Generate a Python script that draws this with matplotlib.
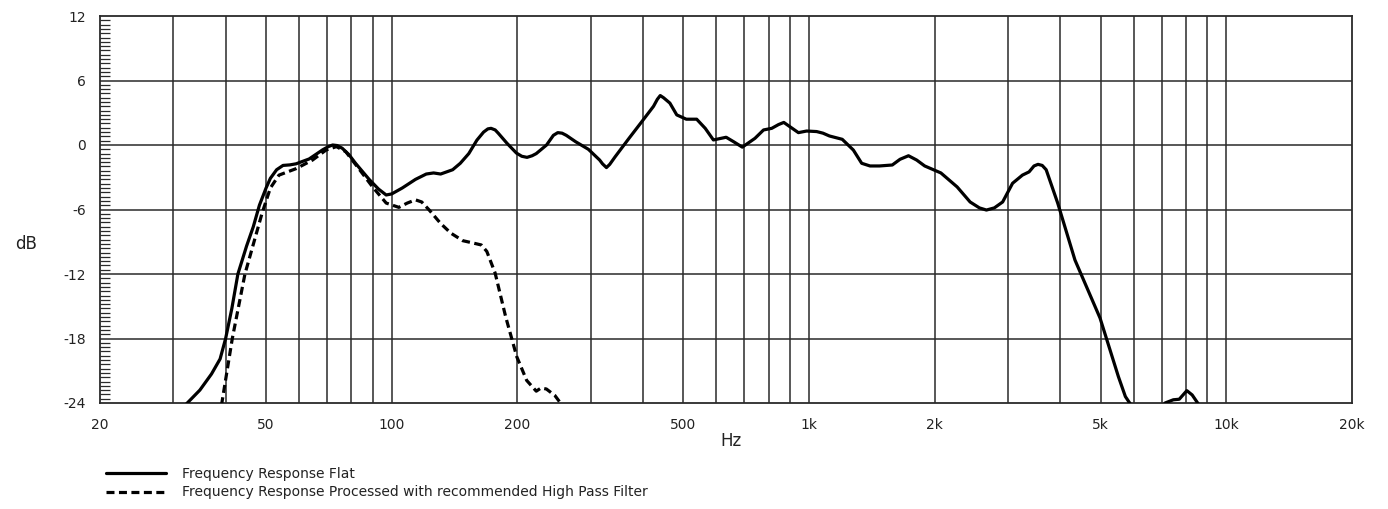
import matplotlib
matplotlib.use('Agg')
import matplotlib.pyplot as plt
from matplotlib.ticker import FixedLocator, NullFormatter, FixedFormatter, MultipleLocator

plt.rcParams['axes.unicode_minus'] = False

# ---------------- data ----------------
flat_hz = [32, 34.7, 37, 38.8, 40.0, 41.4, 42.8, 44.9, 46.6, 48.2, 50.0, 51.2, 53, 54.9, 57,
           59, 63.4, 68.3, 70.5, 72.2, 74, 76.1, 79, 81.9, 88.3, 93, 97, 100, 106, 114, 121,
           126, 131, 140, 146, 153, 160, 166, 170, 173, 177, 180, 189, 199, 205, 211, 217,
           222, 235, 244, 250, 256, 262, 276, 296, 315, 320, 327, 333, 343, 370, 398, 424,
           433, 440, 448, 464, 482, 508, 538, 564, 590, 633, 660, 692, 742, 778, 814, 845,
           870, 900, 943, 987, 1043, 1080, 1119, 1201, 1277, 1337, 1400, 1475, 1583, 1652,
           1731, 1811, 1893, 2070, 2264, 2432, 2560, 2661, 2780, 2910, 3074, 3246, 3367,
           3460, 3537, 3620, 3700, 3943, 4337, 4981, 5512, 5728, 5889, 6400, 7130, 7463,
           7710, 8040, 8280, 8640]
flat_db = [-24.2, -22.8, -21.3, -19.9, -18.0, -15.2, -12.0, -9.4, -7.6, -5.6, -4.0, -3.1,
           -2.3, -1.9, -1.85, -1.75, -1.3, -0.45, -0.15, 0.0, -0.05, -0.3, -0.9, -1.7, -3.2,
           -4.1, -4.65, -4.55, -4.0, -3.2, -2.7, -2.6, -2.7, -2.3, -1.7, -0.8, 0.45, 1.2,
           1.5, 1.55, 1.4, 1.1, 0.15, -0.75, -1.05, -1.15, -1.0, -0.8, 0.0, 0.9, 1.15, 1.1,
           0.9, 0.3, -0.4, -1.4, -1.75, -2.1, -1.8, -1.1, 0.6, 2.2, 3.6, 4.25, 4.6, 4.4,
           3.9, 2.8, 2.4, 2.4, 1.55, 0.47, 0.72, 0.3, -0.2, 0.62, 1.4, 1.55, 1.9, 2.1, 1.7,
           1.15, 1.3, 1.25, 1.1, 0.84, 0.53, -0.47, -1.7, -1.95, -1.95, -1.86, -1.33, -1.0,
           -1.4, -1.95, -2.6, -3.9, -5.3, -5.85, -6.05, -5.85, -5.3, -3.56, -2.8, -2.5,
           -1.95, -1.8, -1.9, -2.3, -5.4, -10.7, -16.1, -21.55, -23.4, -24.1, -30.0, -24.0,
           -23.7, -23.65, -22.85, -23.25, -24.3]

hpf_hz = [39.1, 41.5, 44.5, 48.9, 51.2, 53.7, 59, 64.6, 69.6, 73.7, 77.6, 83.4, 90, 97, 104,
          109, 114, 118, 123, 131, 138.6, 148, 156, 164, 169, 176.9, 187.6, 199.4, 210.6,
          222, 228, 234.8, 246, 256]
hpf_db = [-24.2, -18.0, -12.0, -6.35, -4.0, -2.8, -2.2, -1.4, -0.47, -0.15, -0.62, -2.2,
          -3.9, -5.4, -5.8, -5.4, -5.1, -5.3, -6.05, -7.3, -8.2, -8.9, -9.1, -9.3, -9.9,
          -11.9, -16.0, -19.7, -21.9, -22.9, -22.6, -22.7, -23.3, -24.2]

x_ticks = [20, 50, 100, 200, 500, 1000, 2000, 5000, 10000, 20000]
x_tick_labels = ['20', '50', '100', '200', '500', '1k', '2k', '5k', '10k', '20k']
x_grid = [30, 40, 50, 60, 70, 80, 90, 100, 200, 300, 400, 500, 600, 700, 800, 900,
          1000, 2000, 3000, 4000, 5000, 6000, 7000, 8000, 9000, 10000]
y_ticks = [-24, -18, -12, -6, 0, 6, 12]
legend_labels = ['Frequency Response Flat',
                 'Frequency Response Processed with recommended High Pass Filter']

# ---------------- figure ----------------
W, H = 1388, 509
fig = plt.figure(figsize=(W / 100, H / 100), dpi=100)
ax = fig.add_axes([100 / W, 1 - 403 / H, 1252 / W, 387 / H])
ax.set_xscale('log')
ax.set_xlim(20, 20000)
ax.set_ylim(-24, 12)

gc = '#2a2a2a'
for f in x_grid:
    ax.axvline(f, color=gc, lw=1.1, zorder=1)
for y in y_ticks[1:-1]:
    ax.axhline(y, color=gc, lw=1.1, zorder=1)
for s in ax.spines.values():
    s.set_color(gc)
    s.set_linewidth(1.3)

ax.xaxis.set_major_locator(FixedLocator(x_ticks))
ax.xaxis.set_major_formatter(FixedFormatter(x_tick_labels))
ax.xaxis.set_minor_locator(FixedLocator([]))
ax.xaxis.set_minor_formatter(NullFormatter())
ax.tick_params(axis='x', which='both', length=0, pad=11, labelsize=10, colors='#222222')

ax.yaxis.set_major_locator(FixedLocator(y_ticks))
ax.yaxis.set_minor_locator(MultipleLocator(0.4))
ax.tick_params(axis='y', which='major', length=0, pad=10, labelsize=10, colors='#222222')
ax.tick_params(axis='y', which='minor', direction='in', length=7, width=0.9, color=gc)

l1, = ax.plot(flat_hz, flat_db, color='black', lw=2.3, solid_joinstyle='round',
              solid_capstyle='round', zorder=3)
l2, = ax.plot(hpf_hz, hpf_db, color='black', lw=2.3, linestyle=(0, (2.5, 1.4)),
              dash_joinstyle='round', zorder=3)

fig.text(731 / W, 1 - 441 / H, 'Hz', ha='center', va='center', fontsize=12, color='#222222')
fig.text(26 / W, 1 - 244 / H, 'dB', ha='center', va='center', fontsize=12, color='#222222')

fig.legend(handles=[l1, l2], labels=legend_labels, loc='center left',
           bbox_to_anchor=(106 / W, 1 - 483 / H), frameon=False, fontsize=10,
           handlelength=4.3, handletextpad=1.2, labelspacing=0.35, borderpad=0,
           borderaxespad=0, labelcolor='#222222')

fig.savefig('out.png', dpi=100)
